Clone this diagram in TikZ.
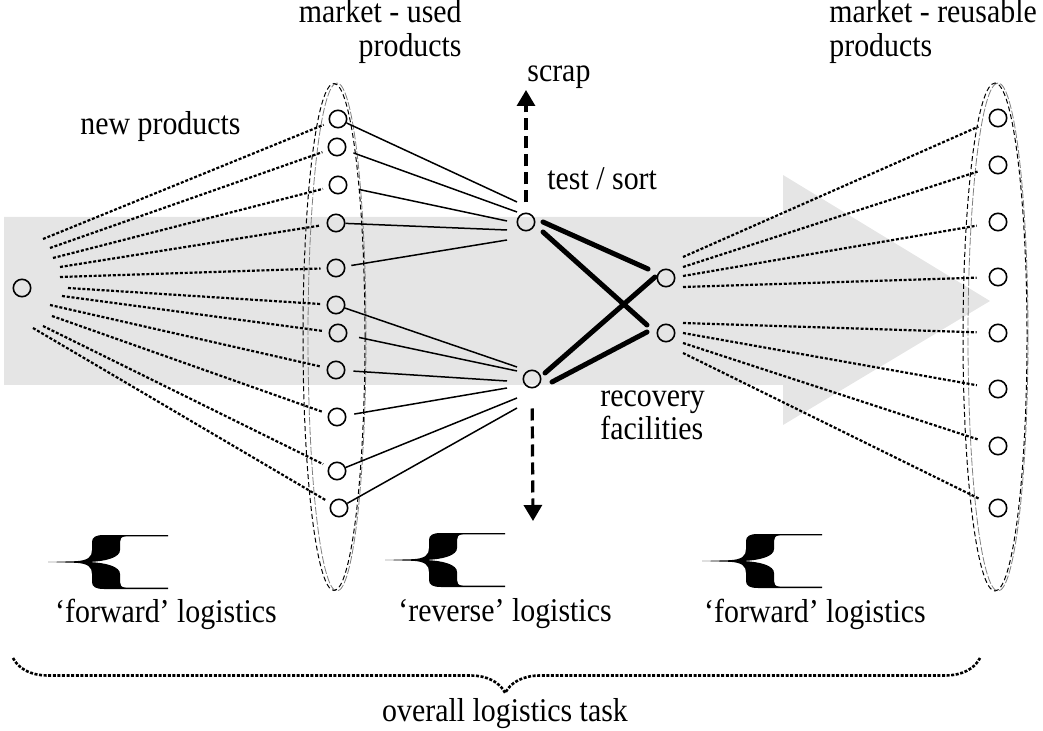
\documentclass[tikz,border=0pt]{standalone}
\usepackage{fontspec}
\setmainfont{Liberation Serif}
\newfontfamily\lblfont{Liberation Serif}[FakeStretch=0.9]
\usetikzlibrary{calc,arrows.meta,decorations.pathreplacing}
\begin{document}
\begin{tikzpicture}[x=0.5pt,y=-0.5pt,
  stn/.style={draw, circle, inner sep=0pt, minimum size=8.7pt, line width=0.8pt},
  fanline/.style={line width=1.1pt, dash pattern=on 1.5pt off 0.9pt, shorten >=3pt},
  solidlink/.style={line width=0.75pt},
  thickline/.style={line width=2.5pt, line cap=round},
  scrapline/.style={line width=1.6pt, dash pattern=on 6pt off 3pt, -{Triangle[length=8pt,width=9pt]}},
  lbl/.style={font=\lblfont\fontsize{16.6}{17}\selectfont, inner sep=0pt},
  mkt/.style={line width=0.5pt, dash pattern=on 2.5pt off 1.5pt},
  mktgrey/.style={line width=0.4pt, gray, dash pattern=on 4pt off 1pt},
  bigbrace/.style={line width=1.3pt, dash pattern=on 1.5pt off 0.8pt},
  pics/logbrace/.style={code={
    \fill (0,0) -- (28,-0.8) .. controls (40,-1.5) and (44,-5) .. (44,-12) -- (44,-20)
      .. controls (44,-25) and (48,-27) .. (56,-27) -- (120,-27) -- (120,-25.6) -- (78,-25.6)
      .. controls (73,-25.6) and (72,-23) .. (72,-20) -- (72,-12)
      .. controls (72,-5) and (60,-0.8) .. (40,0)
      .. controls (60,0.8) and (72,5) .. (72,12) -- (72,20)
      .. controls (72,23) and (73,25.6) .. (78,25.6) -- (120,25.6) -- (120,27) -- (56,27)
      .. controls (48,27) and (44,25) .. (44,20) -- (44,12)
      .. controls (44,5) and (40,1.5) .. (28,0.8) -- cycle;}}
]
\useasboundingbox (0,0) rectangle (1043,731);

% grey flow arrow
\fill[gray!20] (4,217) -- (783,217) -- (783,175) -- (990,301) -- (783,425) -- (783,385) -- (4,385) -- cycle;

% market ellipses
\draw[mktgrey] (337,337) ellipse [x radius=29, y radius=254];
\draw[mkt] (334,337) ellipse [x radius=31, y radius=253.5];
\draw[mktgrey] (998,337) ellipse [x radius=30, y radius=254];
\draw[mkt] (995,337) ellipse [x radius=32, y radius=254];

% nodes
\node[stn] (L) at (22,288) {};
\foreach \i/\x/\y in {1/338/119, 2/337/147, 3/338/185, 4/336/223, 5/336/268, 6/336/305,
                      7/338/333, 8/336/370, 9/337/417, 10/337/471, 11/339/508}
  \node[stn] (M\i) at (\x,\y) {};
\node[stn] (T) at (526,222) {};
\node[stn] (B) at (532,379) {};
\node[stn] (R1) at (666,278) {};
\node[stn] (R2) at (666,333) {};
\foreach \i/\y in {1/118, 2/165, 3/222, 4/277, 5/333, 6/389, 7/446, 8/508}
  \node[stn] (N\i) at (998,\y) {};

% forward fan: new products -> used market
\foreach \i/\dx/\dy in {1/21/-49, 2/28/-40, 3/31/-30, 4/38/-21, 5/38/-11, 6/46/0,
                        7/40/8, 8/28/17, 9/30/28, 10/21/38, 11/11/40}
  \draw[fanline] ($(L)+(\dx,\dy)$) -- (M\i);

% used market -> test/sort
\foreach \i/\dx/\dy/\s in {1/-9/-20/0, 2/-9/-10/4, 3/-19/-1/6, 4/-19/8/0, 5/-19/18/3}
  \draw[solidlink, shorten <=\s pt] (M\i) -- ($(T)+(\dx,\dy)$);
\foreach \i/\dx/\dy/\s in {6/-15/-12/0, 7/-15/-8/6, 8/-25/2/4, 9/-25/9/4, 10/-15/19/0, 11/-15/29/0}
  \draw[solidlink, shorten <=\s pt] (M\i) -- ($(B)+(\dx,\dy)$);

% test/sort -> recovery
\draw[thickline] ($(T)+(17,0)$) -- ($(R1)+(-18,-9)$);
\draw[thickline] ($(T)+(17,10)$) -- ($(R2)+(-19,-8)$);
\draw[thickline] ($(B)+(13,-6)$) -- ($(R1)+(-11,-1)$);
\draw[thickline] ($(B)+(20,3)$) -- ($(R2)+(-19,-1)$);

% scrap arrows
\coordinate (scrapend) at (526,90);
\coordinate (downend) at (533,521);
\draw[scrapline, shorten <=5pt] (T) -- (scrapend);
\draw[scrapline, shorten <=10pt] (B) -- (downend);

% forward fan: recovery -> reusable market
\foreach \i/\r/\dy in {1/1/-21, 2/1/-11, 3/1/-2, 4/1/9, 5/2/-10, 6/2/0, 7/2/10, 8/2/20}
  \draw[fanline, shorten >=6pt] ($(R\r)+(17,\dy)$) -- (N\i);

% labels (base anchor of a two-line node = last line)
\node[lbl, anchor=base east, align=right] (usedlbl) at (462,57) {market - used\\products};
\node[lbl, anchor=base west, align=left] (reulbl) at (829,57) {market - reusable\\products};
\node[lbl, anchor=base west] (newlbl) at (80,135) {new products};
\node[lbl, anchor=base west] (scraplbl) at (527,82) {scrap};
\node[lbl, anchor=base west] (testlbl) at (547,190) {test / sort};
\node[lbl, anchor=base west, align=left] (reclbl) at (600,440) {recovery\\facilities};

% phase braces
\pic at (48,562) {logbrace};
\pic at (385,560) {logbrace};
\pic at (702,561) {logbrace};
\node[lbl, anchor=base] (fw1) at (166,622) {‘forward’ logistics};
\node[lbl, anchor=base] (rev) at (505,621) {‘reverse’ logistics};
\node[lbl, anchor=base] (fw2) at (815,622) {‘forward’ logistics};

% overall brace
\draw[bigbrace, decorate, decoration={brace, mirror, amplitude=17.5pt, aspect=0.509}] (13,658) -- (980,658);
\node[lbl, anchor=base] (overall) at (505,721) {overall logistics task};
\end{tikzpicture}
\end{document}
